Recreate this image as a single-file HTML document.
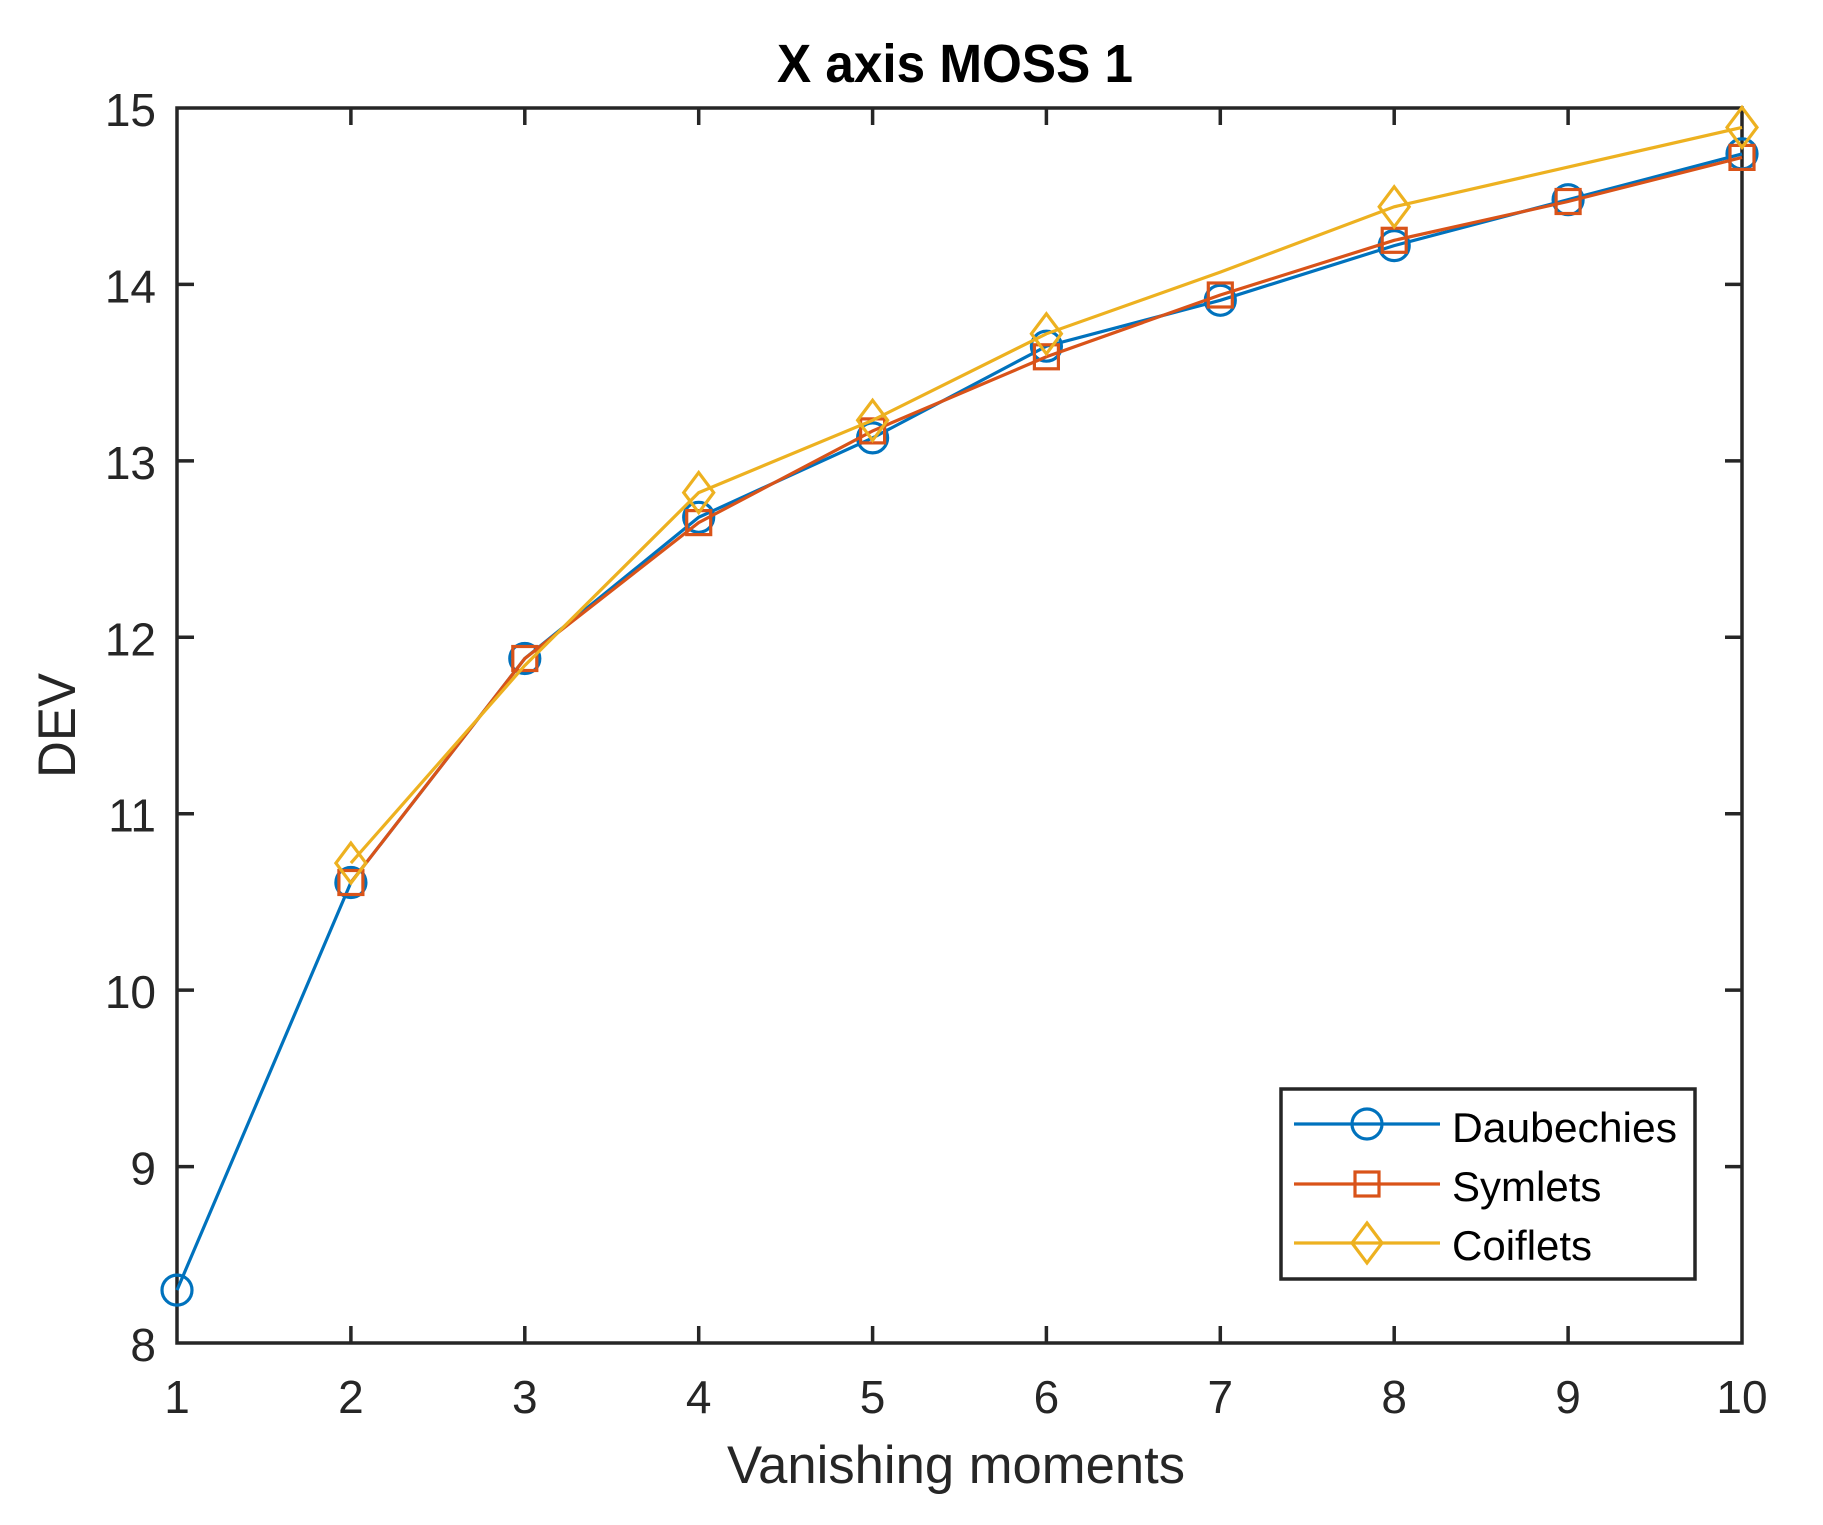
<!DOCTYPE html>
<html><head><style>body{margin:0;background:#fff}svg{display:block}</style></head><body>
<svg width="1823" height="1525" viewBox="0 0 1823 1525" xmlns="http://www.w3.org/2000/svg" font-family="'Liberation Sans', Arial, sans-serif">
<rect width="1823" height="1525" fill="#fff"/>
<rect x="177" y="108" width="1565" height="1235" fill="none" stroke="#262626" stroke-width="3.5"/>
<g stroke="#262626" stroke-width="3.5">
<path d="M350.9 1343v-17M524.8 1343v-17M698.7 1343v-17M872.6 1343v-17M1046.4 1343v-17M1220.3 1343v-17M1394.2 1343v-17M1568.1 1343v-17
M350.9 108v17M524.8 108v17M698.7 108v17M872.6 108v17M1046.4 108v17M1220.3 108v17M1394.2 108v17M1568.1 108v17
M177 1166.6h17M177 990.1h17M177 813.7h17M177 637.3h17M177 460.9h17M177 284.4h17
M1742 1166.6h-17M1742 990.1h-17M1742 813.7h-17M1742 637.3h-17M1742 460.9h-17M1742 284.4h-17"/>
</g>
<g font-size="46" fill="#262626" text-anchor="middle">
<text x="177" y="1413">1</text><text x="350.9" y="1413">2</text><text x="524.8" y="1413">3</text><text x="698.7" y="1413">4</text><text x="872.6" y="1413">5</text><text x="1046.4" y="1413">6</text><text x="1220.3" y="1413">7</text><text x="1394.2" y="1413">8</text><text x="1568.1" y="1413">9</text><text x="1742" y="1413">10</text>
</g>
<g font-size="46" fill="#262626" text-anchor="end">
<text x="156" y="1361">8</text><text x="156" y="1184.6">9</text><text x="156" y="1008.1">10</text><text x="156" y="831.7">11</text><text x="156" y="655.3">12</text><text x="156" y="478.9">13</text><text x="156" y="302.4">14</text><text x="156" y="126">15</text>
</g>
<g fill="none" stroke-width="3.2">
<polyline stroke="#0072BD" points="177,1290.1 350.9,882.5 524.8,658.5 698.7,517.3 872.6,437.9 1046.4,346.2 1220.3,300.3 1394.2,245.6 1568.1,199.7 1742,153.9"/>
<g stroke="#0072BD">
<circle cx="177" cy="1290.1" r="15"/><circle cx="350.9" cy="882.5" r="15"/><circle cx="524.8" cy="658.5" r="15"/><circle cx="698.7" cy="517.3" r="15"/><circle cx="872.6" cy="437.9" r="15"/><circle cx="1046.4" cy="346.2" r="15"/><circle cx="1220.3" cy="300.3" r="15"/><circle cx="1394.2" cy="245.6" r="15"/><circle cx="1568.1" cy="199.7" r="15"/><circle cx="1742" cy="153.9" r="15"/>
</g>
<polyline stroke="#D95319" points="350.9,882.5 524.8,658.5 698.7,522.6 872.6,430.9 1046.4,356.8 1220.3,295 1394.2,240.3 1568.1,201.5 1742,157.4"/>
<g stroke="#D95319">
<rect x="338.9" y="870.5" width="24" height="24"/><rect x="512.8" y="646.5" width="24" height="24"/><rect x="686.7" y="510.6" width="24" height="24"/><rect x="860.6" y="418.9" width="24" height="24"/><rect x="1034.4" y="344.8" width="24" height="24"/><rect x="1208.3" y="283" width="24" height="24"/><rect x="1382.2" y="228.3" width="24" height="24"/><rect x="1556.1" y="189.5" width="24" height="24"/><rect x="1730" y="145.4" width="24" height="24"/>
</g>
<polyline stroke="#EDB120" points="350.9,863.1 524.8,665.5 698.7,492.6 872.6,420.3 1046.4,333.8 1220.3,272.1 1394.2,206.8 1568.1,167.1 1742,127.4"/>
<g stroke="#EDB120">
<path d="M350.9 843.1l15 20l-15 20l-15 -20z"/>
<path d="M698.7 472.6l15 20l-15 20l-15 -20z"/>
<path d="M872.6 400.3l15 20l-15 20l-15 -20z"/>
<path d="M1046.4 313.8l15 20l-15 20l-15 -20z"/>
<path d="M1394.2 186.8l15 20l-15 20l-15 -20z"/>
<path d="M1742 107.4l15 20l-15 20l-15 -20z"/>
</g>
</g>
<rect x="1281" y="1089" width="414" height="190" fill="#fff" stroke="#262626" stroke-width="3.5"/>
<g fill="none" stroke-width="3.2">
<line x1="1294" y1="1124" x2="1440" y2="1124" stroke="#0072BD"/><circle cx="1367" cy="1124" r="15" stroke="#0072BD"/>
<line x1="1294" y1="1184" x2="1440" y2="1184" stroke="#D95319"/><rect x="1355" y="1172" width="24" height="24" stroke="#D95319"/>
<line x1="1294" y1="1243" x2="1440" y2="1243" stroke="#EDB120"/><path d="M1367 1223l15 20l-15 20l-15 -20z" stroke="#EDB120"/>
</g>
<g font-size="42" fill="#000">
<text x="1452" y="1142" textLength="225" lengthAdjust="spacingAndGlyphs">Daubechies</text><text x="1452" y="1201">Symlets</text><text x="1452" y="1260">Coiflets</text>
</g>
<text x="777" y="82" font-size="54" font-weight="bold" fill="#000" textLength="356" lengthAdjust="spacingAndGlyphs">X axis MOSS 1</text>
<text x="727" y="1483" font-size="53" fill="#262626" textLength="458" lengthAdjust="spacingAndGlyphs">Vanishing moments</text>
<text transform="translate(75,778) rotate(-90)" font-size="53" fill="#262626" textLength="105" lengthAdjust="spacingAndGlyphs">DEV</text>
</svg>
</body></html>
